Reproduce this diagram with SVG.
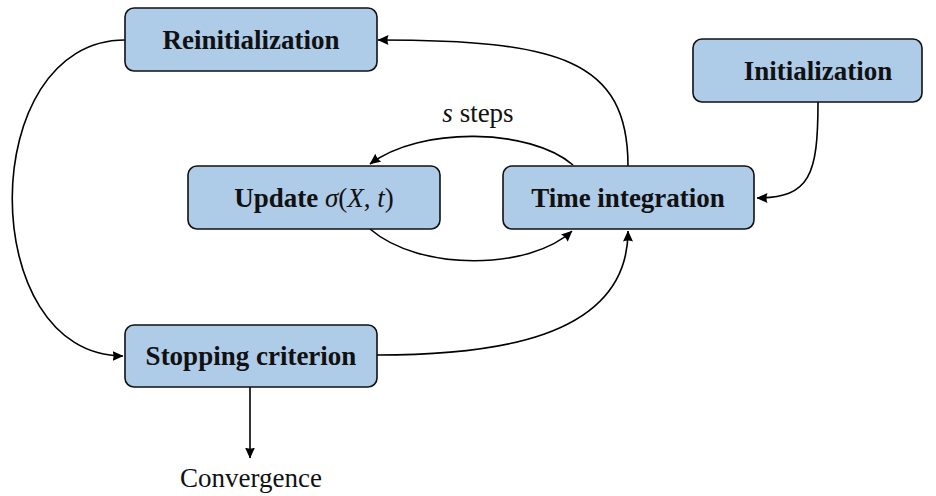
<svg xmlns="http://www.w3.org/2000/svg" width="936" height="496" viewBox="0 0 936 496">
  <style>
    .box { fill: #aecbe8; stroke: #111; stroke-width: 1.6; }
    .lbl { font-family: "Liberation Serif", "Times New Roman", serif; font-size: 27px; font-weight: bold; fill: #111; text-anchor: middle; }
    .plain { font-family: "Liberation Serif", "Times New Roman", serif; font-size: 27px; fill: #111; text-anchor: middle; }
    .it { font-style: italic; font-weight: normal; }
    .edge { fill: none; stroke: #000; stroke-width: 1.6; marker-end: url(#tip); }
  </style>
  <defs>
    <marker id="tip" viewBox="0 0 11 10" refX="10.5" refY="5" markerWidth="11" markerHeight="10" markerUnits="userSpaceOnUse" orient="auto">
      <path d="M0,0 L11,5 L0,10 Q2,5 0,0 z" fill="#000"/>
    </marker>
  </defs>

  <!-- connectors -->
  <g id="connectors">
    <path class="edge" d="M125,40 C-25,40 -25,356 123,356"/>
    <path class="edge" d="M628,166 C628,60 560,40 378,40"/>
    <path class="edge" d="M818,102 C818,175 810,198 757,198"/>
    <path class="edge" d="M573,165 C530,128 420,126 370,164"/>
    <path class="edge" d="M370,229 C420,272 530,270 572,231"/>
    <path class="edge" d="M377,355 C487,355 628,341 628,231"/>
    <path class="edge" d="M250,387 L250,458"/>
  </g>

  <g id="reinitialization">
    <rect class="box" x="125" y="8" width="252" height="63" rx="9"/>
    <text class="lbl" x="251" y="49">Reinitialization</text>
  </g>

  <g id="initialization">
    <rect class="box" x="693" y="39" width="229" height="63" rx="9"/>
    <text class="lbl" x="818" y="80">Initialization</text>
  </g>

  <g id="update">
    <rect class="box" x="188" y="166" width="252" height="63" rx="9"/>
    <text class="lbl" x="314" y="207">Update <tspan class="it">σ</tspan><tspan font-weight="normal">(</tspan><tspan class="it">X</tspan><tspan font-weight="normal">, </tspan><tspan class="it">t</tspan><tspan font-weight="normal">)</tspan></text>
  </g>

  <g id="time-integration">
    <rect class="box" x="503" y="166" width="251" height="63" rx="9"/>
    <text class="lbl" x="628" y="207">Time integration</text>
  </g>

  <g id="stopping-criterion">
    <rect class="box" x="125" y="325" width="252" height="62" rx="9"/>
    <text class="lbl" x="251" y="365">Stopping criterion</text>
  </g>

  <text class="plain" x="478" y="122"><tspan font-style="italic">s</tspan> steps</text>
  <text class="plain" x="251" y="487">Convergence</text>
</svg>
